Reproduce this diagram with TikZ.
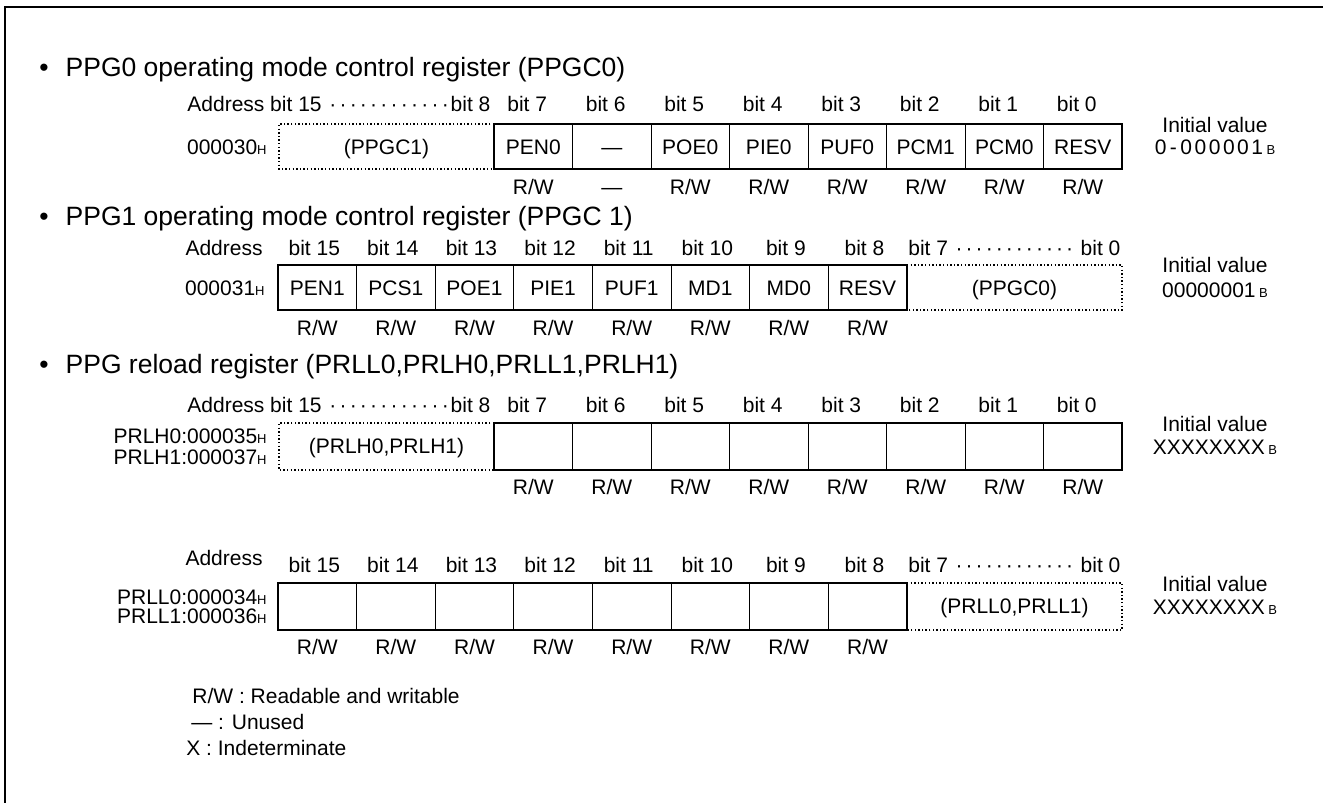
\documentclass[tikz,border=0pt]{standalone}
\usepackage{fontspec}
\setmainfont{Liberation Sans}

\newcommand{\rw}{R/W}
\newcommand{\hx}[1]{#1{\fontsize{6.5}{6.5}\selectfont H}}
\newcommand{\bsuf}{\,{\fontsize{6.5}{6.5}\selectfont B}}
\newcommand{\bitspan}[3]{\makebox[#1][s]{#2\xleaders\hbox to 4.9pt{\hss\textperiodcentered\hss}\hfill#3}}

\begin{document}
\begin{tikzpicture}[x=0.5pt, y=-0.5pt, inner sep=0pt,
    every node/.style={font=\fontsize{10.5}{12}\selectfont, anchor=base},
    title/.style={font=\fontsize{13.25}{15}\selectfont, anchor=base west},
    regbox/.style={line width=1.35pt},
    cellline/.style={line width=0.5pt},
    freebox/.style={line width=0.6pt, dash pattern=on 0.7pt off 1.1pt}]
        \useasboundingbox (0,0) rectangle (1323,803);
        % frame
        \draw[line width=1pt] (1323,7) -- (5,7) -- (5,803);

        % PPGC0
        \node[title] (t1) at (39,76) {\textbullet\hspace{8.5pt}PPG0 operating mode control register (PPGC0)};
        \node[anchor=base west] (a1) at (187,111) {\bitspan{151.5pt}{Address bit 15 }{bit 8}};
        \node[anchor=base east] (ad1) at (267,154) {\hx{000030}};
        \draw[freebox] (494,124) -- (279,124) -- (279,169) -- (494,169);
        \node (f1) at (386.5,154) {(PPGC1)};
        \foreach \name/\acc [count=\k from 0] in {PEN0/\rw,—/—,POE0/\rw,PIE0/\rw,PUF0/\rw,PCM1/\rw,PCM0/\rw,RESV/\rw}{
            \pgfmathsetmacro\xc{494+(\k+0.5)*78.5}
            \pgfmathtruncatemacro\bn{7-\k}
            \draw[cellline] (494+\k*78.5,124) -- (494+\k*78.5,169);
            \node (b1-\k) at (\xc-6,111) {bit \bn};
            \node (c1-\k) at (\xc,154) {\name};
            \node (w1-\k) at (\xc,194) {\acc};
        }
        \draw[regbox] (494,124) rectangle (1122,169);
        \node (iv1) at (1215,132) {Initial value};
        \node (v1) at (1215,154) {{\addfontfeature{LetterSpace=12}0\,-\,000001}\bsuf};

        % PPGC1
        \node[title] (t2) at (39,225) {\textbullet\hspace{8.5pt}PPG1 operating mode control register (PPGC 1)};
        \node[anchor=base east] (a2) at (263,255) {Address};
        \node[anchor=base east] (ad2) at (265,295) {\hx{000031}};
        \foreach \name [count=\k from 0] in {PEN1,PCS1,POE1,PIE1,PUF1,MD1,MD0,RESV}{
            \pgfmathsetmacro\xc{278+(\k+0.5)*78.6}
            \pgfmathtruncatemacro\bn{15-\k}
            \draw[cellline] (278+\k*78.6,265) -- (278+\k*78.6,310);
            \node (b2-\k) at (\xc-3,255) {bit \bn};
            \node (c2-\k) at (\xc,295) {\name};
            \node (w2-\k) at (\xc,335) {\rw};
        }
        \draw[regbox] (278,265) rectangle (907,310);
        \draw[freebox] (907,265) -- (1122,265) -- (1122,310) -- (907,310);
        \node (f2) at (1014.5,295) {(PPGC0)};
        \node[anchor=base west] (a2r) at (908,255) {\bitspan{106pt}{bit 7 }{ bit 0}};
        \node (iv2) at (1215,272) {Initial value};
        \node (v2) at (1215,297) {00000001\bsuf};

        % PRLH
        \node[title] (t3) at (39,373) {\textbullet\hspace{8.5pt}PPG reload register (PRLL0,PRLH0,PRLL1,PRLH1)};
        \node[anchor=base west] (a3) at (187,412) {\bitspan{151.5pt}{Address bit 15 }{bit 8}};
        \node[anchor=base east] (ad3a) at (267,443) {\hx{PRLH0:000035}};
        \node[anchor=base east] (ad3b) at (267,464) {\hx{PRLH1:000037}};
        \draw[freebox] (494,423) -- (279,423) -- (279,470) -- (494,470);
        \node (f3) at (386.5,453) {(PRLH0,PRLH1)};
        \foreach \k in {0,...,7}{
            \pgfmathsetmacro\xc{494+(\k+0.5)*78.5}
            \pgfmathtruncatemacro\bn{7-\k}
            \draw[cellline] (494+\k*78.5,423) -- (494+\k*78.5,470);
            \node (b3-\k) at (\xc-6,412) {bit \bn};
            \node (w3-\k) at (\xc,494) {\rw};
        }
        \draw[regbox] (494,423) rectangle (1122,470);
        \node (iv3) at (1215,431) {Initial value};
        \node (v3) at (1215,454) {XXXXXXXX\bsuf};

        % PRLL
        \node[anchor=base east] (a4) at (263,565) {Address};
        \node[anchor=base east] (ad4a) at (267,604) {\hx{PRLL0:000034}};
        \node[anchor=base east] (ad4b) at (267,623) {\hx{PRLL1:000036}};
        \foreach \k in {0,...,7}{
            \pgfmathsetmacro\xc{278+(\k+0.5)*78.6}
            \pgfmathtruncatemacro\bn{15-\k}
            \draw[cellline] (278+\k*78.6,583) -- (278+\k*78.6,630);
            \node (b4-\k) at (\xc-3,572) {bit \bn};
            \node (w4-\k) at (\xc,654) {\rw};
        }
        \draw[regbox] (278,583) rectangle (907,630);
        \draw[freebox] (907,583) -- (1122,583) -- (1122,630) -- (907,630);
        \node (f4) at (1014.5,613) {(PRLL0,PRLL1)};
        \node[anchor=base west] (a4r) at (908,572) {\bitspan{106pt}{bit 7 }{ bit 0}};
        \node (iv4) at (1215,591) {Initial value};
        \node (v4) at (1215,614) {XXXXXXXX\bsuf};

        % legend
        \node[anchor=base west] (l1) at (192,703) {R/W : Readable and writable};
        \node[anchor=base west] (l2) at (191,729) {— : Unused};
        \node[anchor=base west] (l3) at (186,755) {X : Indeterminate};
\end{tikzpicture}
\end{document}
